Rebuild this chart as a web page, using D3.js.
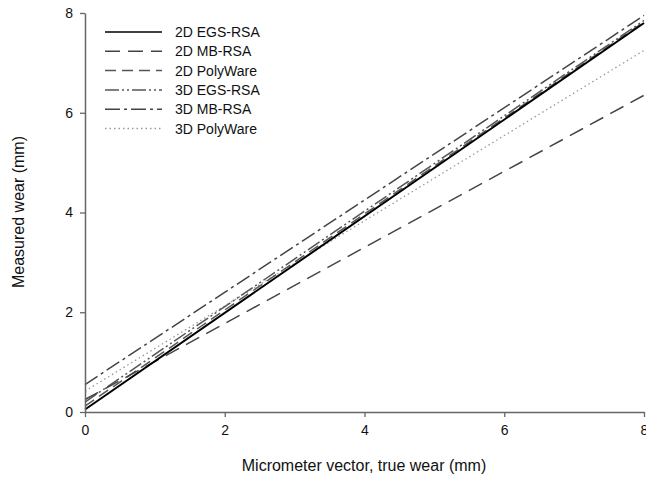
<!DOCTYPE html>
<html>
<head>
<meta charset="utf-8">
<script src="https://cdn.jsdelivr.net/npm/d3@7"></script>
<style>
  body { margin: 0; background: #fff; }
  svg { font-family: Arial, "Liberation Sans", sans-serif; }
</style>
</head>
<body>
<div id="chart"></div>
<script>
// series names, in legend order
const seriesNames = ['2D EGS-RSA', '2D MB-RSA', '2D PolyWare', '3D EGS-RSA', '3D MB-RSA', '3D PolyWare'];
// regression line end points: measured wear at true wear 0 and 8
const trueWear = [0, 8];
const egs2d = [0.05, 7.8];
const mb2d = [0.25, 6.35];
const poly2d = [0.12, 7.82];
const egs3d = [0.2, 7.85];
const mb3d = [0.55, 7.95];
const poly3d = [0.42, 7.25];
const xTicks = [0, 2, 4, 6, 8];
const yTicks = [0, 2, 4, 6, 8];

const width = 646, height = 484;
const margin = {top: 13, right: 2, bottom: 72, left: 85};

const svg = d3.select('#chart').append('svg')
    .attr('width', width)
    .attr('height', height);

const x = d3.scaleLinear().domain([0, 8]).range([margin.left, width - margin.right]);
const y = d3.scaleLinear().domain([0, 8]).range([height - margin.bottom, margin.top]);

// line styles per series
const styles = [
  {color: '#000', w: 2, dash: null},
  {color: '#444', w: 1.5, dash: '15,8'},
  {color: '#555', w: 1.5, dash: '11,6'},
  {color: '#555', w: 1.5, dash: '14,3,2,3,2,3'},
  {color: '#444', w: 1.5, dash: '15,4,3,4'},
  {color: '#999', w: 1.3, dash: '1.5,3'}
];
const seriesVals = [egs2d, mb2d, poly2d, egs3d, mb3d, poly3d];

const line = d3.line()
    .x((d, i) => x(trueWear[i]))
    .y(d => y(d));

// draw thinner/lighter ones first so the solid line sits on top
[5, 4, 3, 2, 1, 0].forEach(function(k) {
  svg.append('path')
      .datum(seriesVals[k])
      .attr('d', line)
      .attr('fill', 'none')
      .attr('stroke', styles[k].color)
      .attr('stroke-width', styles[k].w)
      .attr('stroke-dasharray', styles[k].dash);
});

// axes
const xAxis = svg.append('g')
    .attr('transform', `translate(0, ${y(0)})`)
    .call(d3.axisBottom(x).tickValues(xTicks).tickSize(5).tickSizeOuter(0).tickPadding(8));
const yAxis = svg.append('g')
    .attr('transform', `translate(${x(0)}, 0)`)
    .call(d3.axisLeft(y).tickValues(yTicks).tickSize(5).tickSizeOuter(0).tickPadding(7));

[xAxis, yAxis].forEach(function(g) {
  g.select('.domain').attr('stroke', '#666').attr('stroke-width', 1.5);
  g.selectAll('.tick line').attr('stroke', '#666').attr('stroke-width', 1.3);
  g.selectAll('.tick text')
      .attr('fill', '#111')
      .style('font-size', '14px')
      .style('font-family', 'Arial, "Liberation Sans", sans-serif');
});

// axis titles
svg.append('text')
    .text('Micrometer vector, true wear (mm)')
    .attr('x', 364)
    .attr('y', 471)
    .attr('text-anchor', 'middle')
    .style('font-size', '16px')
    .attr('fill', '#111');

svg.append('text')
    .text('Measured wear (mm)')
    .attr('transform', 'translate(24, 212) rotate(-90)')
    .attr('text-anchor', 'middle')
    .style('font-size', '16px')
    .attr('fill', '#111');

// legend
const legend = svg.append('g');
seriesNames.forEach(function(name, i) {
  const ly = 32 + i * 19.3;
  legend.append('line')
      .attr('x1', 105).attr('x2', 162)
      .attr('y1', ly).attr('y2', ly)
      .attr('stroke', styles[i].color)
      .attr('stroke-width', i === 0 ? 1.5 : styles[i].w)
      .attr('stroke-dasharray', styles[i].dash);
  legend.append('text')
      .text(name)
      .attr('x', 175)
      .attr('y', ly + 5)
      .style('font-size', '14px')
      .attr('fill', '#111');
});
</script>
</body>
</html>
